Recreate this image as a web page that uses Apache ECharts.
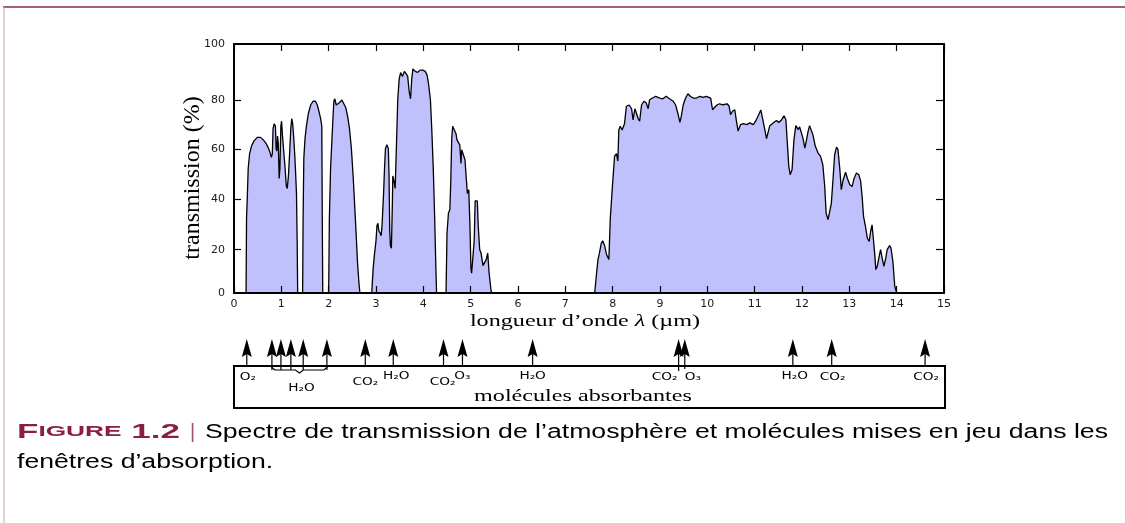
<!DOCTYPE html>
<html>
<head>
<meta charset="utf-8">
<title>Spectre de transmission de l'atmosphère</title>
<script src="https://cdn.jsdelivr.net/npm/echarts@6/dist/echarts.min.js"></script>
<style>
  html, body { margin: 0; padding: 0; background: #fff; }
  #chart { width: 1125px; height: 523px; }
</style>
</head>
<body>
<div id="chart"></div>
<script>
// bandes de transmission : [longueur d'onde (µm), transmission (%)]
var band1 = [[0.255, 0], [0.265, 30], [0.28, 38], [0.30, 50], [0.33, 56], [0.37, 59], [0.42, 61], [0.49, 62.5], [0.56, 62.5], [0.62, 61.5], [0.68, 60], [0.72, 58.5], [0.76, 56.5], [0.79, 54.5], [0.81, 56], [0.825, 66], [0.85, 68], [0.875, 67], [0.89, 58], [0.905, 57], [0.92, 63], [0.935, 60], [0.955, 46], [0.97, 50], [0.99, 67], [1.005, 69], [1.025, 63], [1.05, 57], [1.08, 50], [1.105, 43], [1.125, 42], [1.15, 47], [1.175, 56], [1.20, 66], [1.22, 70], [1.24, 68], [1.26, 63], [1.285, 55], [1.30, 49], [1.32, 40], [1.335, 20], [1.345, 0]]
var band2 = [[1.45, 0], [1.46, 30], [1.475, 54], [1.50, 62], [1.53, 67], [1.57, 72], [1.62, 75.5], [1.67, 77], [1.72, 77], [1.76, 75.5], [1.80, 72.5], [1.83, 70], [1.855, 67], [1.865, 30], [1.875, 0]]
var band3 = [[2.0, 0], [2.015, 30], [2.04, 50], [2.06, 58], [2.09, 70], [2.11, 77], [2.13, 78], [2.16, 75.5], [2.19, 75.5], [2.23, 76.5], [2.28, 77.5], [2.32, 77], [2.36, 74.5], [2.40, 71], [2.44, 66], [2.48, 58], [2.52, 46], [2.55, 35], [2.58, 24], [2.61, 12], [2.64, 4], [2.66, 0]]
var band4 = [[2.91, 0], [2.94, 10], [2.97, 16], [3.00, 21], [3.02, 27], [3.04, 28], [3.06, 25], [3.09, 24], [3.11, 23], [3.13, 28], [3.16, 40], [3.18, 50], [3.20, 58], [3.23, 59.5], [3.26, 58], [3.275, 48], [3.29, 25], [3.305, 19], [3.325, 18], [3.345, 35], [3.355, 47], [3.38, 45], [3.405, 42], [3.43, 58], [3.46, 78], [3.49, 86], [3.52, 88.5], [3.56, 87], [3.60, 89], [3.64, 88], [3.67, 87], [3.70, 81], [3.73, 78], [3.755, 86], [3.78, 90], [3.83, 89], [3.88, 88.6], [3.93, 89.5], [3.99, 89.5], [4.04, 89], [4.08, 87.5], [4.11, 84], [4.15, 77.5], [4.18, 65], [4.21, 50], [4.24, 30], [4.265, 10], [4.28, 0]]
var band5 = [[4.48, 0], [4.50, 24], [4.53, 32], [4.56, 33.5], [4.58, 45], [4.60, 62], [4.62, 67], [4.655, 67], [4.69, 64], [4.71, 61.5], [4.74, 62], [4.77, 59.5], [4.795, 52], [4.81, 57.5], [4.85, 57.5], [4.88, 53.5], [4.90, 48], [4.93, 40], [4.96, 41.5], [4.985, 27], [5.005, 10], [5.02, 8], [5.05, 8], [5.075, 21], [5.095, 37], [5.14, 37], [5.16, 27], [5.19, 17.5], [5.22, 16], [5.26, 11], [5.30, 11], [5.33, 13.5], [5.36, 16], [5.39, 8], [5.43, 1], [5.45, 0]]
var band6 = [[7.62, 0], [7.66, 8], [7.69, 13.5], [7.72, 16], [7.76, 20], [7.79, 21], [7.83, 19], [7.87, 15.5], [7.92, 13.5], [7.95, 30], [7.99, 41.5], [8.04, 55], [8.08, 56], [8.11, 53], [8.13, 65.5], [8.16, 67], [8.20, 65.5], [8.25, 68], [8.29, 75], [8.35, 75.5], [8.40, 74], [8.43, 69.5], [8.47, 74], [8.50, 73.5], [8.54, 70], [8.57, 69], [8.61, 75.5], [8.66, 77], [8.71, 76.3], [8.75, 74], [8.78, 77.6], [8.84, 78.3], [8.91, 79], [8.99, 78.3], [9.06, 78], [9.13, 79], [9.20, 78], [9.28, 77], [9.33, 75.5], [9.38, 72], [9.42, 68.5], [9.45, 71], [9.49, 75.5], [9.54, 78.3], [9.59, 80], [9.64, 79], [9.70, 78.3], [9.77, 78.3], [9.84, 79], [9.91, 78.6], [9.98, 79], [10.07, 78.3], [10.11, 73.6], [10.16, 74.7], [10.21, 75.6], [10.26, 76], [10.33, 75.6], [10.42, 76], [10.46, 75], [10.49, 71.6], [10.53, 73], [10.58, 73.6], [10.61, 69.6], [10.65, 65], [10.70, 67.6], [10.76, 68], [10.83, 67.6], [10.90, 68.3], [10.97, 67.6], [11.02, 69], [11.07, 71], [11.13, 73.5], [11.16, 73], [11.20, 67], [11.25, 62], [11.28, 61.6], [11.32, 67.2], [11.39, 68.3], [11.46, 69.3], [11.51, 68.5], [11.57, 69.6], [11.62, 71.2], [11.66, 69.6], [11.69, 60.2], [11.72, 51], [11.75, 47.5], [11.79, 49.5], [11.83, 61.6], [11.87, 67.2], [11.92, 65.6], [11.95, 66.7], [11.99, 66.3], [12.02, 62.2], [12.06, 58.2], [12.09, 61], [12.13, 65], [12.16, 67.2], [12.20, 66.7], [12.23, 63.6], [12.28, 59], [12.34, 56.2], [12.39, 55], [12.44, 51.5], [12.48, 42.8], [12.51, 32], [12.55, 29.5], [12.58, 29.5], [12.62, 36], [12.66, 47], [12.69, 55.6], [12.73, 58.6], [12.76, 57.6], [12.80, 49.5], [12.83, 41.5], [12.87, 45.5], [12.92, 48.5], [12.96, 46], [13.01, 43.5], [13.06, 42.8], [13.10, 46], [13.15, 48.2], [13.20, 47.5], [13.24, 44.8], [13.27, 38.8], [13.30, 30.8], [13.34, 26.8], [13.38, 22], [13.42, 20.7], [13.45, 24.8], [13.48, 27.4], [13.51, 21.4], [13.54, 14.7], [13.56, 9.4], [13.59, 10.7], [13.63, 14.7], [13.66, 17.4], [13.70, 13.4], [13.73, 10.7], [13.77, 14], [13.80, 17.4], [13.85, 19], [13.88, 18], [13.92, 12.7], [13.96, 2.7], [13.99, 0.7], [14.01, 0]]

// graduations de l'axe des transmissions (placées comme sur la figure)
var yTickPos = [0, 17.4, 37.5, 57.6, 77.5, 100]
var yTickText = ['0', '20', '40', '60', '80', '100']

// molécules absorbantes
var arrowX = [0.27, 0.80, 0.99, 1.20, 1.46, 1.96, 2.77, 3.36, 4.42, 4.82, 6.30, 9.38, 9.51, 11.79, 12.61, 14.58]
var arrowLabel = ['O₂', '', '', '', '', '', 'CO₂', 'H₂O', 'CO₂', 'O₃', 'H₂O', 'CO₂', 'O₃', 'H₂O', 'CO₂', 'CO₂']
var braceRange = [0.80, 1.96]
var braceLabel = 'H₂O'

// mise en page des flèches (px)
var labelShift = [[1, 11], [0, 0], [0, 0], [0, 0], [0, 0], [0, 0], [0, 16], [3, 10], [-1, 16], [0, 10], [0, 10], [-14, 11], [8, 11], [2, 10], [1, 11], [1, 11]]
var stemDrop = [0, 4, 4, 4, 4, 4, 0, 0, 0, 0, 0, 5, 3, 0, 0, 0]

var spectrum = [].concat(band1, band2, band3, band4, band5, band6)

var caption1 = 'Spectre de transmission de l’atmosphère et molécules mises en jeu dans les'
var caption2 = 'fenêtres d’absorption.'
var captionFont = '20px "Liberation Sans"'

function textWidth (str, font) {
  var ctx = document.createElement('canvas').getContext('2d')
  ctx.font = font
  return ctx.measureText(str).width
}
var capScale = 903 / textWidth(caption1, captionFont)
var figWidth = textWidth('F', 'bold 20px "Liberation Sans"') + textWidth('IGURE', 'bold 15px "Liberation Sans"') +
  textWidth(' 1.2', 'bold 20px "Liberation Sans"')
var figScale = 163 / figWidth

var frameLine = { show: true, onZero: false, lineStyle: { color: '#000', width: 2 } }
var tickStyle = { color: '#000', width: 1.2 }
var tickFont = { fontFamily: 'DejaVu Sans', fontSize: 11, color: '#1a1a1a' }

function yLabel (v) {
  var k = 0
  for (var i = 1; i < yTickPos.length; i++) {
    if (Math.abs(yTickPos[i] - v) < Math.abs(yTickPos[k] - v)) k = i
  }
  return yTickText[k]
}

function renderArrow (params, api) {
  var i = api.value(1)
  var p = api.coord([api.value(0), 1])
  var x = p[0]
  var top = p[1]
  var kids = [
    { type: 'line', shape: { x1: x, y1: top - 14, x2: x, y2: top + stemDrop[i] }, style: { stroke: '#000', lineWidth: 1.2 } },
    { type: 'polygon', shape: { points: [[x, top - 27], [x + 5, top - 9], [x, top - 12], [x - 5, top - 9]] }, style: { fill: '#000' } }
  ]
  if (arrowLabel[i]) {
    kids.push({
      type: 'text', x: x + labelShift[i][0], y: top + labelShift[i][1], scaleX: 1.3,
      style: { text: arrowLabel[i], fontFamily: 'DejaVu Sans', fontSize: 10.5, fill: '#000', align: 'center', verticalAlign: 'middle' }
    })
  }
  return { type: 'group', children: kids }
}

function renderBrace (params, api) {
  var a = api.coord([api.value(0), 1])
  var b = api.coord([api.value(1), 1])
  var top = a[1]
  var xc = (a[0] + b[0]) / 2
  return {
    type: 'group',
    children: [
      {
        type: 'polyline',
        shape: { points: [[a[0], top], [a[0], top + 1.5], [a[0] + 3, top + 4], [xc - 4, top + 4], [xc, top + 7], [xc + 4, top + 4], [b[0] - 3, top + 4], [b[0], top + 1.5], [b[0], top]] },
        style: { stroke: '#000', lineWidth: 1.2, fill: null }
      },
      {
        type: 'text', x: xc + 2, y: top + 22, scaleX: 1.3,
        style: { text: braceLabel, fontFamily: 'DejaVu Sans', fontSize: 10.5, fill: '#000', align: 'center', verticalAlign: 'middle' }
      }
    ]
  }
}

var chart = echarts.init(document.getElementById('chart'))
var option = {
  animation: false,
  backgroundColor: '#fff',
  grid: [
    { left: 234, top: 44, width: 710, height: 249 },
    { left: 234, top: 366, width: 711, height: 42, show: true, borderColor: '#000', borderWidth: 2 }
  ],
  xAxis: [
    {
      type: 'value', gridIndex: 0, min: 0, max: 15, interval: 1, position: 'bottom', z: 5,
      axisLine: frameLine, splitLine: { show: false },
      axisTick: { inside: true, length: 7, lineStyle: tickStyle },
      axisLabel: Object.assign({ margin: 6 }, tickFont)
    },
    {
      type: 'value', gridIndex: 0, min: 0, max: 15, interval: 1, position: 'top', z: 5,
      axisLine: frameLine, splitLine: { show: false },
      axisTick: { inside: true, length: 7, lineStyle: tickStyle },
      axisLabel: { show: false }
    },
    { type: 'value', gridIndex: 1, min: 0, max: 15, show: false }
  ],
  yAxis: [
    {
      type: 'value', gridIndex: 0, min: 0, max: 100, position: 'left', z: 5,
      axisLine: frameLine, splitLine: { show: false },
      axisTick: { inside: true, length: 7, lineStyle: tickStyle, customValues: yTickPos.slice(1, -1) },
      axisLabel: Object.assign({ margin: 9, customValues: yTickPos, formatter: yLabel }, tickFont)
    },
    {
      type: 'value', gridIndex: 0, min: 0, max: 100, position: 'right', z: 5,
      axisLine: frameLine, splitLine: { show: false },
      axisTick: { inside: true, length: 8, lineStyle: tickStyle, customValues: yTickPos.slice(1, -1) },
      axisLabel: { show: false }
    },
    { type: 'value', gridIndex: 1, min: 0, max: 1, show: false }
  ],
  series: [
    {
      name: 'transmission',
      type: 'line',
      xAxisIndex: 0,
      yAxisIndex: 0,
      data: spectrum,
      symbol: 'none',
      lineStyle: { color: '#000', width: 1.3 },
      areaStyle: { color: '#c0c0fd', opacity: 1 }
    },
    {
      type: 'custom',
      xAxisIndex: 2,
      yAxisIndex: 2,
      clip: false,
      data: arrowX.map(function (x, i) { return [x, i] }),
      renderItem: renderArrow
    },
    {
      type: 'custom',
      xAxisIndex: 2,
      yAxisIndex: 2,
      clip: false,
      data: [braceRange],
      renderItem: renderBrace
    }
  ],
  graphic: [
    { type: 'line', shape: { x1: 3, y1: 7, x2: 1125, y2: 7 }, style: { stroke: '#8b2a47', lineWidth: 1.5 } },
    { type: 'line', shape: { x1: 4, y1: 7, x2: 4, y2: 523 }, style: { stroke: '#c9a3b1', lineWidth: 1 } },
    {
      type: 'text', x: 193, y: 178, rotation: Math.PI / 2,
      style: { text: 'transmission (%)', fontFamily: 'Liberation Serif', fontSize: 24, fill: '#000', align: 'center', verticalAlign: 'middle' }
    },
    {
      type: 'text', x: 585, y: 322, scaleX: 1.42,
      style: {
        text: 'longueur d’onde {l|λ} (µm)', fontFamily: 'Liberation Serif', fontSize: 17, fill: '#000', align: 'center', verticalAlign: 'middle',
        rich: { l: { fontFamily: 'Liberation Serif', fontStyle: 'italic', fontSize: 17, fill: '#000' } }
      }
    },
    {
      type: 'text', x: 583, y: 397, scaleX: 1.42,
      style: { text: 'molécules absorbantes', fontFamily: 'Liberation Serif', fontSize: 17, fill: '#000', align: 'center', verticalAlign: 'middle' }
    },
    {
      type: 'text', x: 17, y: 432, scaleX: figScale,
      style: {
        text: '{a|F}{b|IGURE}{a| 1.2}', verticalAlign: 'middle',
        rich: {
          a: { fontFamily: 'Liberation Sans', fontSize: 20, fontWeight: 'bold', fill: '#8b1f3f' },
          b: { fontFamily: 'Liberation Sans', fontSize: 15, fontWeight: 'bold', fill: '#8b1f3f' }
        }
      }
    },
    {
      type: 'text', x: 190, y: 432,
      style: { text: '|', fontFamily: 'Liberation Sans', fontSize: 20, fill: '#a0546d', verticalAlign: 'middle' }
    },
    {
      type: 'text', x: 205, y: 432, scaleX: capScale,
      style: { text: caption1, font: captionFont, fill: '#000', verticalAlign: 'middle' }
    },
    {
      type: 'text', x: 17, y: 462, scaleX: capScale,
      style: { text: caption2, font: captionFont, fill: '#000', verticalAlign: 'middle' }
    }
  ]
}
chart.setOption(option)
</script>
</body>
</html>
